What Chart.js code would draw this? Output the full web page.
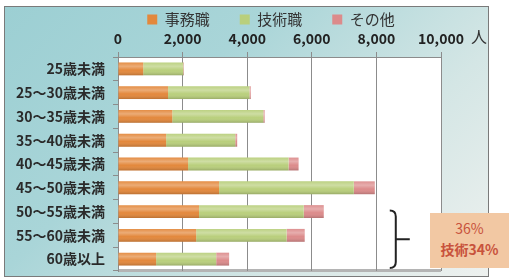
<!DOCTYPE html>
<html>
<head>
<meta charset="utf-8">
<script src="https://cdn.jsdelivr.net/npm/chart.js@4.4.1/dist/chart.umd.min.js"></script>
<style>
  html, body { margin: 0; padding: 0; background: #fff; overflow: hidden; }
  #wrap { position: relative; width: 509px; height: 280px; }
  #panel {
    position: absolute; left: 4px; top: 6px; width: 483px; height: 269px;
    border: 1px solid #7a7a7a;
    background: linear-gradient(135deg, #9ccfd3 0%, #a9d5d8 35%, #d4e6e5 70%, #eef1ef 100%);
  }
  #chart { position: absolute; left: 0; top: 0; }
  #unit {
    position: absolute; left: 471px; top: 24px;
    font: 16px "Noto Sans CJK JP", sans-serif; color: #333;
  }
  #note {
    position: absolute; left: 430px; top: 213px; width: 79px; height: 55px;
    background: #f2c8a3; color: #c8523c; text-align: center;
    font: 14px "Noto Sans CJK JP", sans-serif; line-height: 21px;
    box-sizing: border-box; padding-top: 5px;
  }
  #note b { font-weight: bold; }
</style>
</head>
<body>
<div id="wrap">
  <div id="panel"></div>
  <canvas id="chart" width="509" height="280"></canvas>
  <div id="unit">人</div>
  <div id="note">36%<br><b>技術34%</b></div>
</div>
<script>
// age groups (top to bottom)
let ageGroups = ["25歳未満", "25～30歳未満", "30～35歳未満", "35～40歳未満", "40～45歳未満",
                 "45～50歳未満", "50～55歳未満", "55～60歳未満", "60歳以上"];

// people per group
let jimu    = [780, 1550, 1680, 1490, 2170, 3130, 2510, 2420, 1180];   // 事務職
let gijutsu = [1240, 2520, 2820, 2140, 3110, 4170, 3240, 2800, 1860];  // 技術職
let sonota  = [20, 40, 40, 60, 310, 650, 620, 560, 400];               // その他

let xTicks = [0, 2000, 4000, 6000, 8000, 10000];

const FONT = "'Noto Sans CJK JP', 'Noto Sans', sans-serif";

// white plot area + grey floor
let plotBg = {
    id: "plotBg",
    beforeDraw(chart) {
        let a = chart.chartArea;
        let ctx = chart.ctx;
        ctx.save();
        ctx.fillStyle = "#ffffff";
        ctx.fillRect(a.left, a.top, a.right - a.left, a.bottom - a.top);
        ctx.fillStyle = "#b4b4b4";
        ctx.fillRect(a.left, a.bottom - 2, a.right - a.left, 3);
        ctx.restore();
    }
};

// keep the legend short and move it over the plot
let legendShift = {
    id: "legendShift",
    afterInit(chart) {
        let lg = chart.legend;
        let origFit = lg.fit.bind(lg);
        lg.fit = function () { origFit(); this.height = 28; };
    },
    afterLayout(chart) {
        chart.legend.left = 100;
        chart.legend.right = 442;
        chart.legend.top = -18;
    }
};

// round-ish shading on the bars
let barShade = {
    id: "barShade",
    afterDatasetsDraw(chart) {
        let ctx = chart.ctx;
        chart.data.datasets.forEach((ds, i) => {
            chart.getDatasetMeta(i).data.forEach(bar => {
                let top = bar.y - bar.height / 2;
                let g = ctx.createLinearGradient(0, top, 0, top + bar.height);
                g.addColorStop(0, "rgba(255,255,255,0.05)");
                g.addColorStop(0.3, "rgba(255,255,255,0.3)");
                g.addColorStop(0.6, "rgba(255,255,255,0)");
                g.addColorStop(1, "rgba(0,0,0,0.18)");
                ctx.fillStyle = g;
                let left = Math.min(bar.x, bar.base);
                ctx.fillRect(left, top, Math.abs(bar.x - bar.base), bar.height);
            });
        });
    }
};

// curly brace next to the 50+ rows
let brace = {
    id: "brace",
    afterDraw(chart) {
        let x = chart.scales.x.getPixelForValue(8600);
        let y = chart.scales.y;
        let y1 = y.getPixelForValue(6) - 1;
        let y2 = y.getPixelForValue(8) + 9;
        let ym = (y1 + y2) / 2;
        let ctx = chart.ctx;
        ctx.save();
        ctx.strokeStyle = "#222";
        ctx.lineWidth = 2;
        ctx.beginPath();
        ctx.moveTo(x - 6, y1);
        ctx.quadraticCurveTo(x, y1, x, y1 + 6);
        ctx.lineTo(x, y2 - 6);
        ctx.quadraticCurveTo(x, y2, x - 6, y2);
        ctx.moveTo(x, ym);
        ctx.lineTo(x + 14, ym);
        ctx.stroke();
        ctx.restore();
    }
};

new Chart(document.getElementById("chart"), {
    type: "bar",
    data: {
        labels: ageGroups,
        datasets: [
            { label: "事務職", data: jimu, backgroundColor: "#e3883c" },
            { label: "技術職", data: gijutsu, backgroundColor: "#b9cf7c" },
            { label: "その他", data: sonota, backgroundColor: "#dc8b8b" }
        ]
    },
    options: {
        indexAxis: "y",
        responsive: false,
        animation: false,
        barPercentage: 0.6,
        categoryPercentage: 0.9,
        layout: { padding: { left: 0, right: 68, top: 0, bottom: 9 } },
        plugins: {
            legend: {
                position: "top",
                labels: {
                    boxWidth: 10, boxHeight: 10, padding: 30,
                    color: "#333",
                    font: { family: FONT, size: 15 }
                }
            },
            tooltip: { enabled: false }
        },
        scales: {
            x: {
                position: "top",
                stacked: true,
                min: 0, max: 10000,
                afterBuildTicks(s) { s.ticks = xTicks.map(v => ({ value: v })); },
                afterFit(s) { s.height = 29; },
                ticks: {
                    padding: 5,
                    color: "#222",
                    maxRotation: 0,
                    font: { family: FONT, size: 14, weight: "bold" },
                    callback: v => v.toLocaleString("en-US")
                },
                grid: { color: "#8c8c8c", tickLength: 5, lineWidth: 1 },
                border: { color: "#8c8c8c" }
            },
            y: {
                stacked: true,
                afterFit(s) { s.width = 118; s.paddingTop = 0; s.paddingBottom = 0; },
                ticks: {
                    autoSkip: false,
                    padding: 8,
                    color: "#2a2a2a",
                    font: { family: FONT, size: 14, weight: "bold" }
                },
                grid: { drawOnChartArea: false, tickLength: 5, color: "#8c8c8c" },
                border: { color: "#8c8c8c" }
            }
        }
    },
    plugins: [plotBg, legendShift, barShade, brace]
});
</script>
</body>
</html>
